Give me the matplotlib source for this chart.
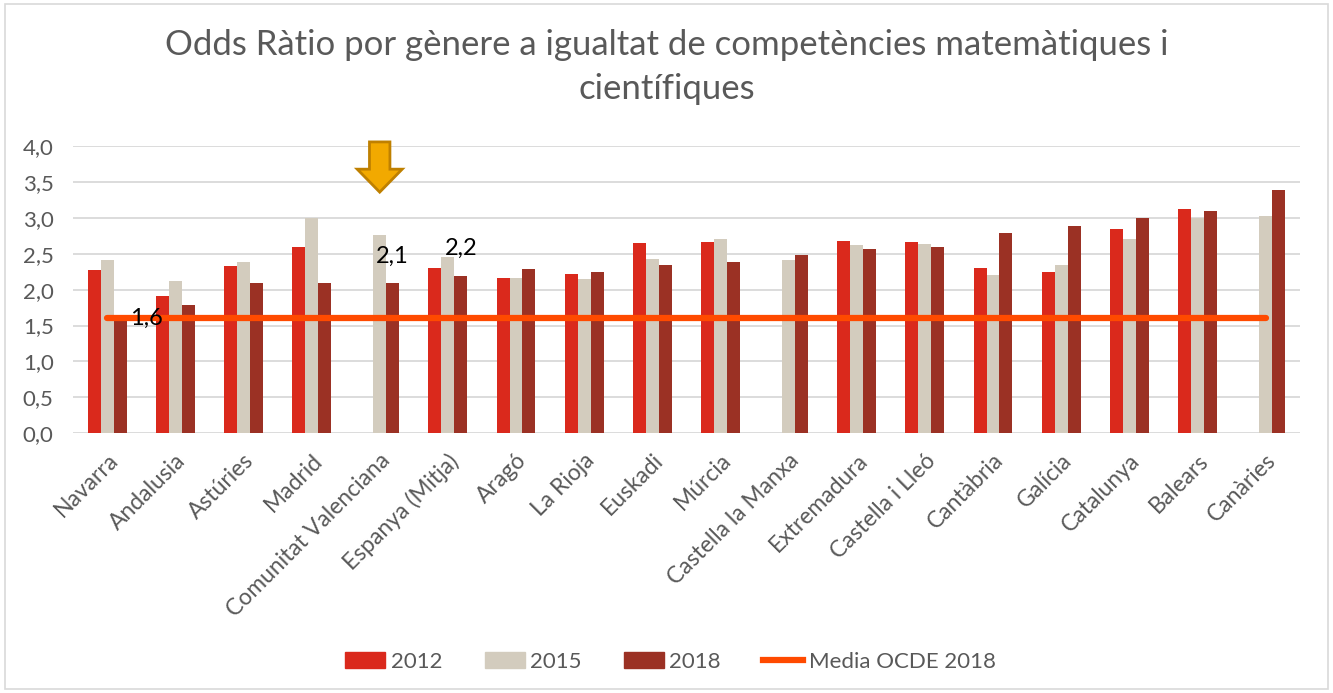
import matplotlib
matplotlib.use("Agg")
import matplotlib.pyplot as plt
import numpy as np
from matplotlib.ticker import FuncFormatter, MultipleLocator
from matplotlib.patches import Rectangle, FancyArrow
from matplotlib.lines import Line2D

plt.rcParams['font.family'] = ['Lato', 'DejaVu Sans']

categories = ["Navarra", "Andalusia", "Astúries", "Madrid", "Comunitat Valenciana",
              "Espanya (Mitja)", "Aragó", "La Rioja", "Euskadi", "Múrcia",
              "Castella la Manxa", "Extremadura", "Castella i Lleó", "Cantàbria",
              "Galícia", "Catalunya", "Balears", "Canàries"]
s2012 = [2.27, 1.91, 2.33, 2.59, np.nan, 2.30, 2.16, 2.22, 2.65, 2.66,
         np.nan, 2.68, 2.67, 2.30, 2.24, 2.84, 3.13, np.nan]
s2015 = [2.41, 2.12, 2.39, 3.00, 2.76, 2.45, 2.16, 2.15, 2.43, 2.70,
         2.41, 2.62, 2.64, 2.20, 2.34, 2.71, 3.00, 3.03]
s2018 = [1.60, 1.79, 2.09, 2.09, 2.09, 2.19, 2.29, 2.25, 2.35, 2.39,
         2.49, 2.57, 2.59, 2.79, 2.89, 3.00, 3.09, 3.39]
ocde_2018 = 1.6
series_names = ["2012", "2015", "2018"]
line_name = "Media OCDE 2018"

c2012 = "#DA291C"
c2015 = "#D3CCBE"
c2018 = "#9B3124"
cline = "#FF4A00"
grey = "#595959"

fig = plt.figure(figsize=(13.33, 6.93), dpi=100)
ax = fig.add_axes([0.0548, 0.375, 0.9202, 0.414])

x = np.arange(len(categories))
w = 0.19
ax.bar(x - w, s2012, w, color=c2012, label=series_names[0], zorder=2)
ax.bar(x, s2015, w, color=c2015, label=series_names[1], zorder=2)
ax.bar(x + w, s2018, w, color=c2018, label=series_names[2], zorder=2)
ax.plot([x[0], x[-1]], [ocde_2018, ocde_2018], color=cline, lw=4.5,
        solid_capstyle='round', zorder=3, label=line_name)

ax.set_xlim(-0.5, len(categories) - 0.5)
ax.set_ylim(0, 4.0)
ax.yaxis.set_major_locator(MultipleLocator(0.5))
ax.yaxis.set_major_formatter(FuncFormatter(lambda v, p: f"{v:.1f}".replace('.', ',')))
ax.grid(axis='y', color='#D9D9D9', lw=1.3, zorder=0)
ax.set_axisbelow(True)
for s in ax.spines.values():
    s.set_visible(False)
ax.tick_params(length=0, colors=grey)
ax.tick_params(axis='y', pad=14, labelsize=16)
ax.set_xticks(x)
ax.set_xticklabels(categories, rotation=45, ha='right', rotation_mode='anchor')
ax.tick_params(axis='x', pad=12, labelsize=16.5)

fmt = lambda v: f"{v:.1f}".replace('.', ',')
# data labels
ax.annotate(fmt(ocde_2018), (x[0] + w, ocde_2018), xytext=(19, 0), textcoords='offset points',
            ha='center', va='center', fontsize=17, color='black', zorder=5)
ax.annotate(fmt(s2018[4]), (x[4] + w, s2018[4]),
            xytext=(0, 19), textcoords='offset points', ha='center', va='center',
            fontsize=17, color='black', zorder=5)
ax.annotate(fmt(s2018[5]), (x[5] + w, s2018[5]),
            xytext=(0, 20), textcoords='offset points', ha='center', va='center',
            fontsize=17, color='black', zorder=5)

# arrow above Comunitat Valenciana
arr = FancyArrow(x[4], 4.06, 0, -0.70, width=0.30, head_width=0.66, head_length=0.32,
                 length_includes_head=True, facecolor="#F2A900", edgecolor="#BF8000",
                 lw=2, clip_on=False, zorder=6)
ax.add_patch(arr)

fig.suptitle("Odds Ràtio por gènere a igualtat de competències matemàtiques i\ncientífiques",
             y=0.958, fontsize=25, color=grey, linespacing=1.45)

handles = [Rectangle((0, 0), 1, 1, color=c2012), Rectangle((0, 0), 1, 1, color=c2015),
           Rectangle((0, 0), 1, 1, color=c2018), Line2D([0], [0], color=cline, lw=4.5)]
leg = fig.legend(handles, series_names + [line_name], loc='center', bbox_to_anchor=(0.503, 0.045),
                 ncol=4, frameon=False, fontsize=16, handlelength=1.8, handleheight=0.7,
                 columnspacing=1.9, handletextpad=0.25)
for t in leg.get_texts():
    t.set_color(grey)

fig.patches.append(Rectangle((0.004, 0.006), 0.992, 0.988, transform=fig.transFigure,
                             fill=False, edgecolor='#D9D9D9', lw=1.2))

fig.savefig("out.png", dpi=100)
